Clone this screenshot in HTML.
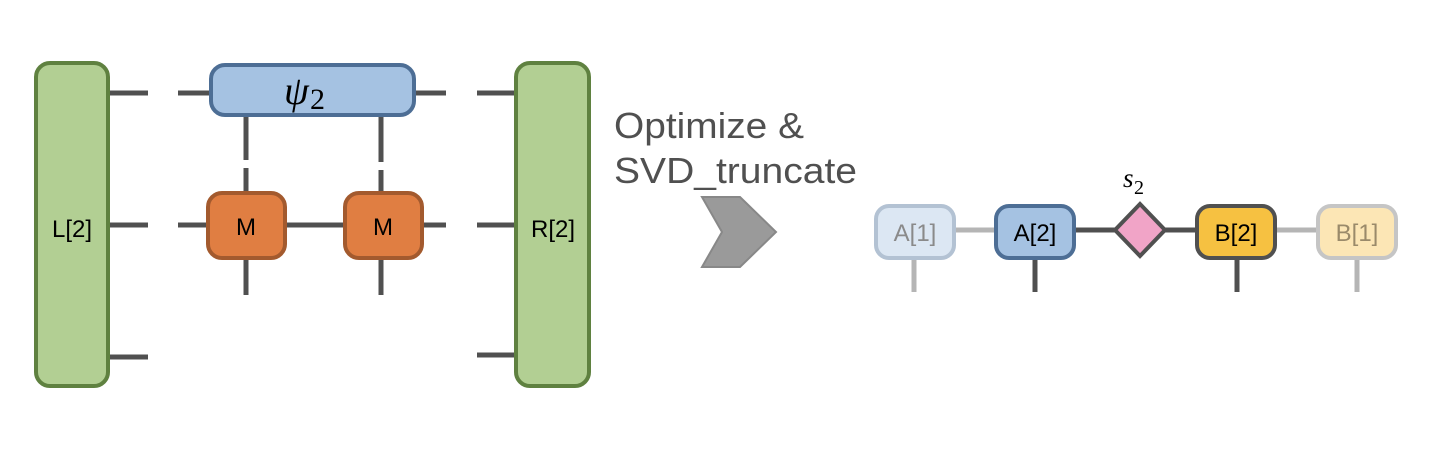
<!DOCTYPE html>
<html><head><style>body{margin:0;background:#fff}</style></head><body>
<svg width="1448" height="448" viewBox="0 0 1448 448" xmlns="http://www.w3.org/2000/svg" font-family="Liberation Sans, sans-serif">
<g stroke="#505050" stroke-width="5">
<line x1="108" y1="93" x2="148" y2="93"/><line x1="108" y1="225" x2="148" y2="225"/><line x1="108" y1="357" x2="148" y2="357"/>
<line x1="477" y1="93" x2="515" y2="93"/><line x1="477" y1="225" x2="515" y2="225"/><line x1="477" y1="355" x2="515" y2="355"/>
<line x1="178" y1="93" x2="212" y2="93"/><line x1="412" y1="93" x2="446" y2="93"/>
<line x1="178" y1="225" x2="446" y2="225"/>
<line x1="246" y1="115" x2="246" y2="160"/><line x1="246" y1="168" x2="246" y2="295"/>
<line x1="381" y1="115" x2="381" y2="162"/><line x1="381" y1="170" x2="381" y2="295"/>
</g>
<rect x="36" y="63" width="72" height="323" rx="14" fill="#b2cf93" stroke="#5f8140" stroke-width="4"/>
<rect x="516" y="63" width="73" height="323" rx="14" fill="#b2cf93" stroke="#5f8140" stroke-width="4"/>
<text x="72" y="237" font-size="24" text-anchor="middle">L[2]</text>
<text x="553" y="237" font-size="24" text-anchor="middle">R[2]</text>
<rect x="211" y="65" width="203" height="50" rx="14" fill="#a5c2e2" stroke="#4d6e95" stroke-width="4"/>
<text x="284" y="104" font-size="40" font-style="italic" font-family="Liberation Serif, serif">ψ</text>
<text x="310" y="109" font-size="30" font-family="Liberation Serif, serif">2</text>
<rect x="208" y="193" width="77" height="65" rx="14" fill="#e07e42" stroke="#a35a2e" stroke-width="4"/>
<rect x="345" y="193" width="77" height="65" rx="14" fill="#e07e42" stroke="#a35a2e" stroke-width="4"/>
<text x="246" y="235" font-size="24" text-anchor="middle">M</text>
<text x="383" y="235" font-size="24" text-anchor="middle">M</text>
<text x="614" y="138" font-size="36" fill="#505050" textLength="190" lengthAdjust="spacingAndGlyphs">Optimize &amp;</text>
<text x="614" y="183" font-size="36" fill="#505050" textLength="243" lengthAdjust="spacingAndGlyphs">SVD_truncate</text>
<polygon points="702,197 740,197 776,232 740,267 702,267 722,232" fill="#9a9a9a" stroke="#888" stroke-width="2"/>
<g stroke-width="5">
<line x1="955" y1="230" x2="995" y2="230" stroke="#b5b5b5"/>
<line x1="1275" y1="230" x2="1318" y2="230" stroke="#b5b5b5"/>
<line x1="1075" y1="230" x2="1197" y2="230" stroke="#505050"/>
<line x1="914" y1="258" x2="914" y2="292" stroke="#b5b5b5"/>
<line x1="1357" y1="258" x2="1357" y2="292" stroke="#b5b5b5"/>
<line x1="1035" y1="258" x2="1035" y2="292" stroke="#505050"/>
<line x1="1237" y1="258" x2="1237" y2="292" stroke="#505050"/>
</g>
<rect x="876" y="206" width="78" height="52" rx="13" fill="#dce7f3" stroke="#b3c2d3" stroke-width="4"/>
<rect x="996" y="206" width="78" height="52" rx="13" fill="#a5c2e2" stroke="#4d6e95" stroke-width="4"/>
<rect x="1197" y="206" width="78" height="52" rx="13" fill="#f6c141" stroke="#505050" stroke-width="4"/>
<rect x="1318" y="206" width="78" height="52" rx="13" fill="#fce6b5" stroke="#c5c5c5" stroke-width="4"/>
<polygon points="1140,204 1165,230 1140,256 1115,230" fill="#f1a4c7" stroke="#505050" stroke-width="4"/>
<text x="915" y="241" font-size="24" text-anchor="middle" fill="#8a8a8a">A[1]</text>
<text x="1035" y="241" font-size="24" text-anchor="middle">A[2]</text>
<text x="1236" y="241" font-size="24" text-anchor="middle">B[2]</text>
<text x="1357" y="241" font-size="24" text-anchor="middle" fill="#9a8a6a">B[1]</text>
<text x="1123" y="187" font-size="27" font-style="italic" font-family="Liberation Serif, serif">s</text>
<text x="1134" y="194" font-size="20" font-family="Liberation Serif, serif">2</text>
</svg>
</body></html>
